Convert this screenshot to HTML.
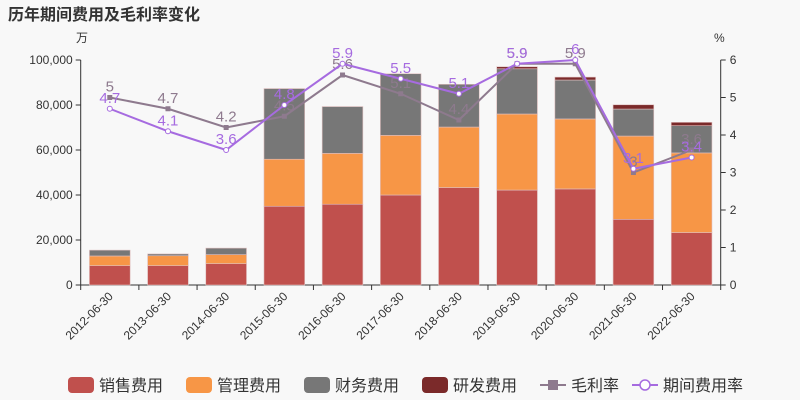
<!DOCTYPE html>
<html><head><meta charset="utf-8"><style>
body{margin:0;background:#f8f8f8;font-family:"Liberation Sans","Noto Sans CJK SC",sans-serif}
svg{display:block}
</style></head><body>
<svg id="c" width="800" height="400" xmlns="http://www.w3.org/2000/svg">
<rect width="800" height="400" fill="#f8f8f8"/>
<text x="8" y="20" font-size="16" font-weight="bold" fill="#333">历年期间费用及毛利率变化</text>
<text x="76" y="42" font-size="12" fill="#333">万</text>
<text x="714" y="42" font-size="12" fill="#333">%</text>
<g id="g"></g>
</svg>
<script>
const categories=["2012-06-30","2013-06-30","2014-06-30","2015-06-30","2016-06-30","2017-06-30","2018-06-30","2019-06-30","2020-06-30","2021-06-30","2022-06-30"];
const sales=[8600,8600,9500,35000,35900,40000,43300,42200,42700,29200,23300];
const mgmt=[4300,4400,4000,20900,22600,26500,26900,33800,31100,37000,35400];
const fin=[2600,800,2900,31400,20800,27400,19000,20100,17300,12000,12100];
const rnd=[0,0,0,0,0,0,0,900,1300,1900,1500];
const gross=[5,4.7,4.2,4.5,5.6,5.1,4.4,5.9,5.9,3,3.6];
const rate=[4.7,4.1,3.6,4.8,5.9,5.5,5.1,5.9,6,3.1,3.4];
const leftTicks=[0,20000,40000,60000,80000,100000];
const rightTicks=[0,1,2,3,4,5,6];
const X0=80.7,X1=720.7,Y0=285,Y1=60;
const cw=(X1-X0)/categories.length;
const xc=i=>X0+cw*(i+0.5);
const yl=v=>Y0-(v/100000)*(Y0-Y1);
const yr=v=>Y0-(v/6)*(Y0-Y1);
const g=document.getElementById('g');
const NS="http://www.w3.org/2000/svg";
function el(t,a,txt){const e=document.createElementNS(NS,t);for(const k in a)e.setAttribute(k,a[k]);if(txt!==undefined)e.textContent=txt;g.appendChild(e);return e;}
// axes
let e;
e=el('line',{x1:X0,y1:Y1,x2:X0,y2:Y0,stroke:'#333'});


e=el('line',{x1:X1,y1:Y1,x2:X1,y2:Y0,stroke:'#333'});


e=el('line',{x1:X0,y1:Y0,x2:X1,y2:Y0,stroke:'#333'});


leftTicks.forEach(v=>{
 el('line',{x1:X0-5,x2:X0,y1:yl(v),y2:yl(v),stroke:'#333'});
 e=el('text',{x:X0-8,y:yl(v)+4,'font-size':12,fill:'#333','text-anchor':'end'},v.toLocaleString('en-US'));
 
 
});
rightTicks.forEach(v=>{
 el('line',{x1:X1,x2:X1+5,y1:yr(v),y2:yr(v),stroke:'#333'});
 e=el('text',{x:X1+9,y:yr(v)+4,'font-size':12,fill:'#333'},v);
 
 
});
for(let i=0;i<=categories.length;i++)el('line',{x1:X0+cw*i,x2:X0+cw*i,y1:Y0,y2:Y0+5,stroke:'#333'});
categories.forEach((c,i)=>{
 const x=xc(i)+4,y=Y0+12;
 e=el('text',{x:x,y:y,'font-size':12,fill:'#333','text-anchor':'end',transform:`rotate(-45 ${x} ${y})`},c);
 
 
});
// bars
const series=[[sales,'#c0504d','bar-sales'],[mgmt,'#f79646','bar-management'],[fin,'#777777','bar-finance'],[rnd,'#7b2a2a','bar-rnd']];
const bw=cw*0.7;
categories.forEach((c,i)=>{
 let acc=0;
 series.forEach(([arr,col,nm])=>{
  const v=arr[i]; if(!v)return;
  const yt=yl(acc+v),yb=yl(acc);
  e=el('rect',{x:xc(i)-bw/2,y:yt,width:bw,height:yb-yt,fill:col,stroke:'#e0c0c0','stroke-width':0.6});
  
  
  acc+=v;
 });
});
// lines
function line(arr,col,nm,hollow,dy){
 e=el('polyline',{points:arr.map((v,i)=>xc(i)+','+yr(v)).join(' '),fill:'none',stroke:col,'stroke-width':2});
 
 
 arr.forEach((v,i)=>{
  if(hollow)e=el('circle',{cx:xc(i),cy:yr(v),r:2.5,fill:'#fff',stroke:col});
  else e=el('rect',{x:xc(i)-2.5,y:yr(v)-2.5,width:5,height:5,fill:col});
  
  
  e=el('text',{x:xc(i),y:yr(v)-dy,'font-size':15,fill:col,'text-anchor':'middle'},v);
  
  
 });
}
line(gross,'#8e7a8e','gross-margin',false,6);
line(rate,'#a66be0','expense-rate',true,6);
// legend
const leg=[['销售费用','#c0504d','r'],['管理费用','#f79646','r'],['财务费用','#777777','r'],['研发费用','#7b2a2a','r'],['毛利率','#8e7a8e','l'],['期间费用率','#a66be0','c']];
let lx=68;
const widths=[118,118,118,118,92,0];
leg.forEach(([t,col,k],i)=>{
 const y=385;
 if(k==='r'){e=el('rect',{x:lx,y:y-8,width:26,height:16,rx:4,fill:col});}
 else{el('line',{x1:lx,x2:lx+26,y1:y,y2:y,stroke:col,'stroke-width':2});
  if(k==='l')e=el('rect',{x:lx+8,y:y-5,width:10,height:10,fill:col});
  else e=el('circle',{cx:lx+13,cy:y,r:5,fill:'#fff',stroke:col,'stroke-width':1.5});}
 
 
 e=el('text',{x:lx+31,y:y+6,'font-size':16,fill:'#333'},t);
 
 
 lx+=widths[i];
});
</script>
</body></html>
